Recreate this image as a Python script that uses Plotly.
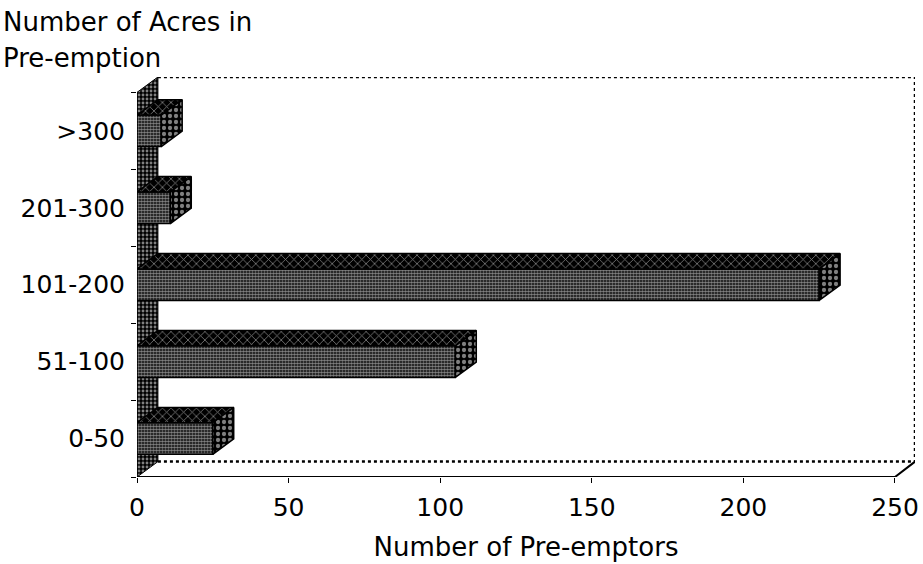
import plotly.graph_objects as go

# Acreage classes (bottom to top) and number of pre-emptors in each
categories = ["0-50", "51-100", "101-200", "201-300", ">300"]
preemptors = [25, 105, 225, 11, 8]
x_ticks = [0, 50, 100, 150, 200, 250]

# 3-D box geometry, in data units
X_MAX = 250.0      # end of the value axis (front plane)
X_END = 256.6      # right edge of the back wall
DX = 6.9           # depth offset along x
DY = 0.2           # depth offset along the category axis
BAR_W = 0.41       # thickness of each bar's front face

FONT = "DejaVu Sans"
positions = list(range(len(categories)))
y_lo, y_hi = -0.5, len(categories) - 0.5


def pat(shape, size, solidity):
    return dict(shape=shape, bgcolor="black", fgcolor="white",
                size=size, solidity=solidity)


fig = go.Figure()

# ---- walls and floor (base subplot) ----
fig.add_trace(go.Scatter(
    x=[0, 0, DX, DX, 0], y=[y_lo, y_hi, y_hi + DY, y_lo + DY, y_lo],
    mode="lines", fill="toself", line=dict(color="black", width=1),
    fillpattern=pat(".", 4, 0.4), hoverinfo="skip", showlegend=False))

dotted = dict(color="black", width=2.5, dash="dot")
fig.add_trace(go.Scatter(  # back floor edge
    x=[DX, X_END], y=[y_lo + DY, y_lo + DY], mode="lines",
    line=dotted, hoverinfo="skip", showlegend=False))
fig.add_trace(go.Scatter(  # top edge of back wall + right edge
    x=[DX, X_END, X_END], y=[y_hi + DY, y_hi + DY, y_lo + DY], mode="lines",
    line=dotted, hoverinfo="skip", showlegend=False))
fig.add_trace(go.Scatter(  # floor front edge and right slant
    x=[0, X_MAX, X_END], y=[y_lo, y_lo, y_lo + DY], mode="lines",
    line=dict(color="black", width=2), hoverinfo="skip", showlegend=False))

# ---- bars (overlay subplot so they sit in front of the wall) ----
fig.add_trace(go.Bar(
    x=preemptors, y=positions, orientation="h", width=BAR_W,
    marker=dict(color="black", pattern=pat(".", 3, 0.62),
                line=dict(color="black", width=1.5)),
    xaxis="x2", yaxis="y2", showlegend=False,
    hovertemplate="%{x} pre-emptors<extra></extra>"))

for v, p in zip(preemptors, positions):
    top = p + BAR_W / 2
    bot = p - BAR_W / 2
    # upper face
    fig.add_trace(go.Scatter(
        x=[0, v, v + DX, DX, 0], y=[top, top, top + DY, top + DY, top],
        mode="lines", fill="toself", line=dict(color="black", width=1.5),
        fillpattern=pat("x", 6, 0.25), xaxis="x2", yaxis="y2",
        hoverinfo="skip", showlegend=False))
    # end face
    fig.add_trace(go.Scatter(
        x=[v, v + DX, v + DX, v, v], y=[bot, bot + DY, top + DY, top, bot],
        mode="lines", fill="toself", line=dict(color="black", width=1.5),
        fillpattern=pat(".", 6, 0.4), xaxis="x2", yaxis="y2",
        hoverinfo="skip", showlegend=False))

W, H = 923, 564
ML, MT, MB = 137, 77, 87
PW = 782                      # plot width in px
MR = W - ML - PW
xr = [0, X_END]
yr = [y_lo, y_hi + DY]

fig.update_layout(
    width=W, height=H,
    margin=dict(l=ML, r=MR, t=MT, b=MB, pad=0),
    plot_bgcolor="white", paper_bgcolor="white",
    barmode="overlay",
    font=dict(family=FONT, color="black", size=26),
    xaxis=dict(range=xr, tickmode="array", tickvals=x_ticks,
               ticktext=[str(t) for t in x_ticks],
               ticks="outside", ticklen=5, tickcolor="black", tickwidth=1,
               showgrid=False, zeroline=False, showline=False,
               tickfont=dict(family=FONT, size=25), ticklabelstandoff=3,
               ticklabeloverflow="allow",
               title=dict(text="Number of Pre-emptors",
                          font=dict(family=FONT, size=26), standoff=16)),
    yaxis=dict(range=yr, tickmode="array", tickvals=positions,
               ticktext=categories, ticks="", showgrid=False,
               zeroline=False, showline=False,
               tickfont=dict(family=FONT, size=25), ticklabelstandoff=11,
               minor=dict(tickvals=[p - 0.5 for p in positions] + [y_hi],
                          ticks="outside", ticklen=5, tickcolor="black",
                          tickwidth=1, showgrid=False)),
    xaxis2=dict(range=xr, overlaying="x", anchor="y2", visible=False),
    yaxis2=dict(range=yr, overlaying="y", anchor="x2", visible=False),
    annotations=[
        dict(text="Number of Acres in", xref="paper", yref="paper",
             x=-ML / PW, y=(H - MB - 22) / (H - MT - MB),
             xanchor="left", yanchor="middle", showarrow=False,
             font=dict(family=FONT, size=26)),
        dict(text="Pre-emption", xref="paper", yref="paper",
             x=-ML / PW, y=(H - MB - 58) / (H - MT - MB),
             xanchor="left", yanchor="middle", showarrow=False,
             font=dict(family=FONT, size=26)),
    ],
)

fig.write_html("out.html")
